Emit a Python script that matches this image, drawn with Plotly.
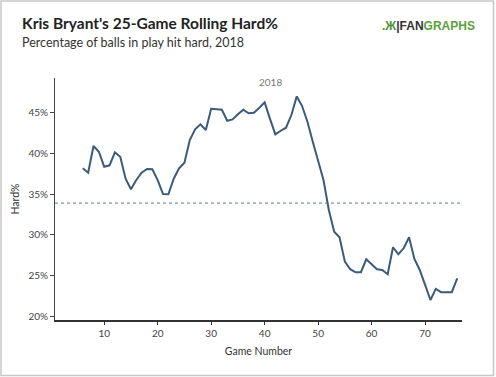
import plotly.graph_objects as go

games = list(range(6, 77))
hard_pct = [38.15, 37.62, 40.88, 40.18, 38.35, 38.52, 40.11, 39.57, 36.88, 35.59,
            36.72, 37.62, 38.07, 38.03, 36.72, 35.01, 34.98, 36.88, 38.15, 38.84,
            41.61, 42.92, 43.53, 42.84, 45.44, 45.37, 45.32, 43.97, 44.14, 44.76,
            45.32, 44.88, 44.95, 45.56, 46.22, 44.20, 42.31, 42.75, 43.12, 44.67,
            46.95, 45.77, 43.85, 41.41, 39.17, 36.72, 33.06, 30.40, 29.72, 26.74,
            25.81, 25.44, 25.44, 27.03, 26.42, 25.81, 25.72, 25.20, 28.50, 27.64,
            28.37, 29.72, 27.07, 25.72, 23.89, 22.05, 23.40, 23.00, 23.00, 23.00,
            24.70]
mean_value = 33.9
y_tickvals = [20, 25, 30, 35, 40, 45]
y_ticktext = ["20%", "25%", "30%", "35%", "40%", "45%"]
x_tickvals = [10, 20, 30, 40, 50, 60, 70]
series_label = "2018"

W, H = 496, 377
ml, mr, mt, mb = 55, 34, 78, 57
pw, ph = W - ml - mr, H - mt - mb

def px_x(p):
    return (p - ml) / pw

def px_y(p):
    return (H - mb - p) / ph

font = "Lato, 'Open Sans', sans-serif"

fig = go.Figure()
fig.add_trace(go.Scatter(
    x=games, y=hard_pct, mode="lines",
    line=dict(color="#3b5b7b", width=2), hoverinfo="skip", showlegend=False))

fig.add_shape(type="line", xref="paper", yref="y", x0=0, x1=1,
              y0=mean_value, y1=mean_value,
              line=dict(color="#5a7896", width=1, dash="dot"))

# outer border
fig.add_shape(type="rect", xref="paper", yref="paper",
              x0=px_x(1), x1=px_x(W - 2.5), y0=px_y(1), y1=px_y(H - 1.5),
              line=dict(color="#c8c8c8", width=1.5), layer="above")

fig.add_annotation(x=(games[0] + games[-1]) / 2, y=1, xref="x", yref="paper",
                   yanchor="bottom", text=series_label, showarrow=False,
                   yshift=-12, font=dict(family=font, size=10, color="#777"))

fig.add_annotation(x=px_x(20), y=px_y(23), xref="paper", yref="paper",
                   xanchor="left", yanchor="middle", showarrow=False,
                   text="<b>Kris Bryant's 25-Game Rolling Hard%</b>",
                   font=dict(family=font, size=15.5, color="#222"))
fig.add_annotation(x=px_x(20), y=px_y(42), xref="paper", yref="paper",
                   xanchor="left", yanchor="middle", showarrow=False,
                   text="Percentage of balls in play hit hard, 2018",
                   font=dict(family=font, size=12.5, color="#333"))
fig.add_annotation(x=px_x(477), y=px_y(26), xref="paper", yref="paper",
                   xanchor="right", yanchor="middle", showarrow=False,
                   text="<b><span style='color:#4d8f35'>.Ж</span><span style='color:#333'>|FAN</span><span style='color:#5aa13c'>GRAPHS</span></b>",
                   font=dict(family="'Liberation Sans', Arial, sans-serif", size=12))

fig.update_layout(
    width=W, height=H,
    margin=dict(l=ml, r=mr, t=mt, b=mb),
    paper_bgcolor="white", plot_bgcolor="white",
    font=dict(family=font, color="#444"),
    xaxis=dict(range=[0.8, 76.9], tickvals=x_tickvals, showgrid=False,
               zeroline=False, showline=True, linecolor="#333", linewidth=2,
               ticks="outside", ticklen=3, tickcolor="#333",
               tickfont=dict(size=10, color="#444"),
               title=dict(text="Game Number", font=dict(size=10.5, color="#333"),
                          standoff=10)),
    yaxis=dict(range=[19.6, 49.2], tickvals=y_tickvals, ticktext=y_ticktext,
               showgrid=False, zeroline=False, showline=True, linecolor="#444",
               linewidth=1, ticks="outside", ticklen=4, tickcolor="#444",
               tickfont=dict(size=10, color="#444"),
               title=dict(text="Hard%", font=dict(size=10.5, color="#333"),
                          standoff=6)),
)

fig.write_html("out.html", config={"displayModeBar": False},
               post_script="document.body.style.margin='0';document.body.style.overflow='hidden';")
